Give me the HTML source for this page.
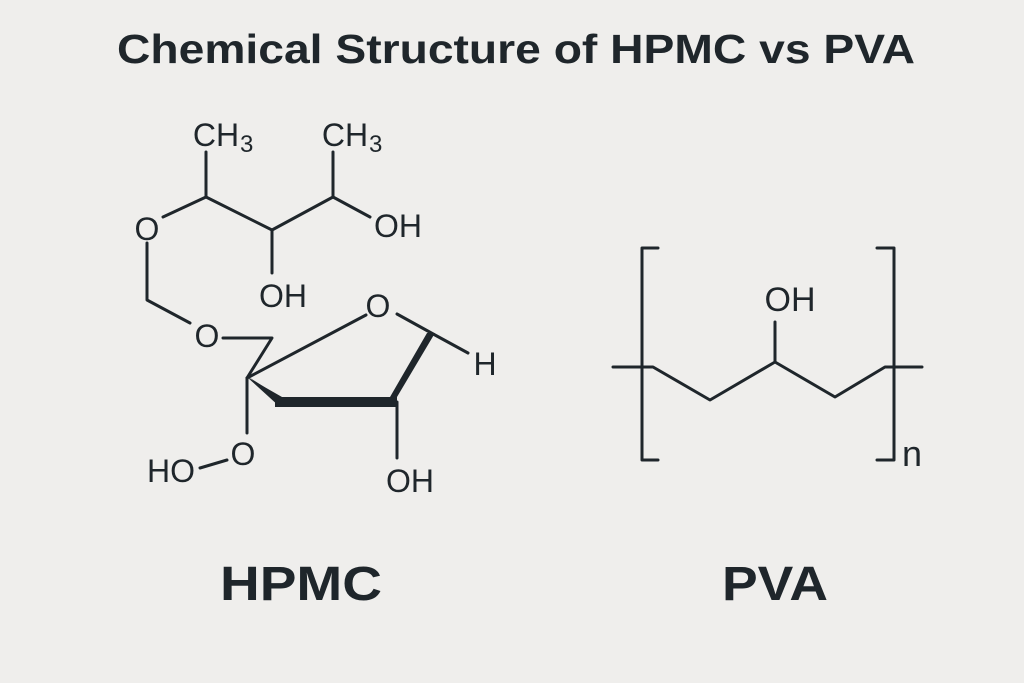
<!DOCTYPE html>
<html><head><meta charset="utf-8"><style>
html,body{margin:0;padding:0;background:#efeeec;}
svg{display:block}
text{font-family:"Liberation Sans",sans-serif;fill:#1f262b}
</style></head><body>
<svg width="1024" height="683" viewBox="0 0 1024 683">
<rect width="1024" height="683" fill="#efeeec"/>
<text x="117" y="63" font-size="41" font-weight="bold" textLength="798" lengthAdjust="spacingAndGlyphs">Chemical Structure of HPMC vs PVA</text>
<g stroke="#1f262b" stroke-width="3" fill="none" stroke-linecap="round" stroke-linejoin="round">
<path d="M206,152 L206,197 L163,217"/>
<path d="M206,197 L272,230 L272,273"/>
<path d="M272,230 L333,197 L333,152"/>
<path d="M333,197 L370,217"/>
<path d="M147,243 L147,300 L190,323"/>
<path d="M223,338 L272,338 L247,378"/>
<path d="M247,378 L366,315"/>
<path d="M397,314 L435,335 L468,353"/>
<path d="M247,378 L247,433"/>
<path d="M200,468 L227,460"/>
<path d="M397,402 L397,458"/>
<path d="M658,248 L642,248 L642,460 L658,460"/>
<path d="M877,248 L894,248 L894,460 L877,460"/>
<path d="M613,367 L653,367 L710,400 L775,362 L835,397 L885,367 L922,367"/>
<path d="M775,362 L775,322"/>
</g>
<polygon points="247,376 275,397 275,407 397,407 397,397 435,333 427,333 390,397 280,397" fill="#1f262b"/>
<polygon points="247,377 282,397 280,407" fill="#1f262b"/>
<g font-size="32" text-anchor="middle">
<text x="216" y="146">CH</text>
<text x="345" y="146">CH</text>
<text x="147" y="240">O</text>
<text x="398" y="237">OH</text>
<text x="283" y="307">OH</text>
<text x="207" y="347">O</text>
<text x="378" y="317">O</text>
<text x="485" y="375">H</text>
<text x="243" y="465">O</text>
<text x="171" y="482">HO</text>
<text x="410" y="492">OH</text>
<text x="790" y="311" font-size="34">OH</text>
<text x="912" y="466" font-size="36">n</text>
</g>
<text x="240" y="152" font-size="24">3</text>
<text x="369" y="152" font-size="24">3</text>
<text x="220" y="600" font-size="48" font-weight="bold" textLength="162" lengthAdjust="spacingAndGlyphs">HPMC</text>
<text x="722" y="600" font-size="48" font-weight="bold" textLength="106" lengthAdjust="spacingAndGlyphs">PVA</text>
</svg>
</body></html>
